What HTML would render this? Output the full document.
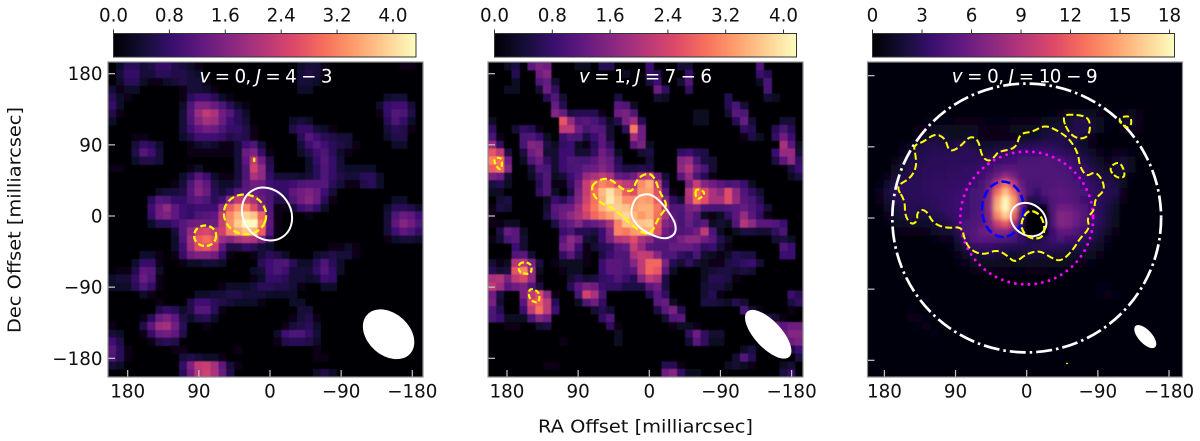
<!DOCTYPE html>
<html lang="en">
<head>
<meta charset="utf-8">
<title>Three-panel intensity maps</title>
<style>
html,body{margin:0;padding:0;background:#fff;width:1200px;height:441px;overflow:hidden}
svg{display:block}
text{font-family:"DejaVu Sans","Liberation Sans",sans-serif;fill:#111}
</style>
</head>
<body>
<svg id="figure" xmlns="http://www.w3.org/2000/svg" width="1200" height="441" viewBox="0 0 1200 441">
<defs id="defs">
<filter id="soft" x="-5%" y="-5%" width="110%" height="110%"><feGaussianBlur stdDeviation="0.55"/></filter>
<filter id="smooth" x="-5%" y="-5%" width="110%" height="110%"><feGaussianBlur stdDeviation="2.2"/></filter>
</defs>
<text x="645.5" y="432.5" text-anchor="middle" font-size="18" textLength="215" lengthAdjust="spacingAndGlyphs">RA Offset [milliarcsec]</text>
<text transform="translate(20.5,220) rotate(-90)" text-anchor="middle" font-size="18" textLength="226" lengthAdjust="spacingAndGlyphs">Dec Offset [milliarcsec]</text>
</svg>
<script>
const axisTicks = [180, 90, 0, -90, -180];
const colorTicksA = [0, 0.8, 1.6, 2.4, 3.2, 4.0];
const colorLabelsA = ["0.0", "0.8", "1.6", "2.4", "3.2", "4.0"];
const colorTicksC = [0, 3, 6, 9, 12, 15, 18];
const colorLabelsC = ["0", "3", "6", "9", "12", "15", "18"];
const magmaStops = ["#000004","#140e36","#3b0f70","#641a80","#8c2981","#b73779","#de4968","#f7705c","#fe9f6d","#fecf92","#fcfdbf"];

const intensityJ43 = [
[0,.2,.5,.5,.3,.4,.6,.6,.4,.3,.2,.1,0,0,0,0,0,0,0,0,0,0,0,0,.2,.3,.3,.1,0,0,0,0,0,0,0,0,0,.1,.1],
[0,.3,.6,.6,.3,.3,.5,.5,.4,.4,.3,.2,0,0,0,0,0,0,0,0,0,0,0,0,.3,.4,.3,.1],
[0,.2,.5,.5,.2,.1,.1,.2,.3,.4,.3,.3,.1,0,0,0,0,0,0,0,0,0,0,0,.3,.3,.2],
[.3,.1,.2,.2,0,0,0,0,0,.1,.3,.3,.2,.1,0,0,0,0,0,0,0,0,0,0,.2,.2],
[.5,.2,.1,0,0,0,0,0,0,.1,.5,.7,.7,.5,.2,.1,0,0,0,0,0,0,0,0,0,0,0,0,0,0,0,0,0,0,0,.2,.3,.3],
[.6,.2,0,0,0,0,0,0,0,.2,.8,1.3,1.3,1.1,.8,.5,.2,.1,0,0,0,0,0,0,0,0,0,0,0,0,0,0,0,0,.2,.6,.7,.7,.3],
[.4,.1,0,0,0,0,0,0,0,.3,.9,1.6,2,1.8,1.2,.9,.5,.2,0,0,0,0,0,0,0,0,0,0,0,0,0,0,0,0,.1,.6,.9,.8,.4],
[.2,0,0,0,0,0,0,0,0,.3,.8,1.4,1.7,1.6,1.1,.7,.5,.3,0,0,0,0,0,.2,.3,.2,0,0,0,0,0,0,0,0,0,.5,.8,.6,.2],
[0,0,0,0,0,0,0,0,0,.3,.7,1,1.2,1.1,.8,.6,.6,.4,.1,0,0,0,0,.4,.6,.6,.3,.2,.1,0,0,0,0,0,0,.3,.5,.4,.1],
[0,0,0,.1,.1,0,0,0,0,.2,.4,.7,.7,.7,.6,.4,.5,.4,.1,0,0,0,0,0,.5,.9,.7,.5,.4,.3,.3,0,0,0,0,.2,.4,.4],
[0,0,0,.3,.6,.5,.2,0,0,0,.1,.2,.3,.2,.1,.1,.3,.7,.8,.3,0,0,0,0,.3,.7,.9,.7,.5,.4,.3,.1,0,0,0,0,.2,.2],
[0,0,0,.4,.9,.7,.3,0,0,0,.1,.1,.1,.1,.1,.1,.3,1.1,1.3,.6,.1,0,0,0,.2,.4,.7,.8,.5,.2,.1],
[0,0,0,.2,.4,.4,.3,0,0,0,0,0,0,0,0,0,.3,1,2,1.2,.4,0,0,0,0,.2,.6,.9,.6,.3],
[.1,.1,0,0,0,0,0,0,0,0,.1,.2,0,0,0,0,.3,.8,2.2,1.5,.5,0,0,0,0,.2,.5,.8,.6,.3,.2,.2,.2,.2],
[0,0,0,0,0,0,0,0,0,.2,.5,.9,.7,.2,.1,.1,.3,.8,1.8,1.5,.6,.3,.3,.3,.2,.3,.5,.8,.6,.4,.3,.3,.5,.5,.2],
[0,0,0,0,0,0,0,0,.1,.3,.8,1.3,1,.4,.2,.2,.4,.9,1.2,1.1,.7,.6,.6,.7,.8,.9,.9,.9,.5,.3,.1,.1,.4,.5,.2],
[0,0,0,0,0,0,.2,.3,.3,.4,.9,1.4,1.1,.5,.3,.5,.8,1,1.1,1,.8,.6,.6,1,1.2,1.3,1.1,.7,.3],
[0,0,0,0,0,.5,.9,.8,.6,.6,.8,1,.8,.5,.7,1.5,2,2,1.7,1.1,.8,.4,.4,.8,1.2,1.4,1.1,.5,.1,0,0,0,0,0,0,0,.2,.2],
[0,0,0,0,0,.7,1.2,1.5,1,.7,.6,.7,.7,.7,1.5,2.6,3.1,3.1,2.4,1.5,.8,.1,.1,.3,.7,.8,.6,.2,0,0,0,0,0,0,0,.2,.5,.5,.4,.2],
[0,0,0,0,0,.6,1.2,1.3,1,.7,.6,.8,.9,1,2,3.1,3.6,3.9,3.7,2.7,.9,.1,0,0,0,.1,0,0,0,0,0,0,0,0,0,.3,.8,1.1,1,.7],
[0,0,0,0,0,.2,.5,.5,.7,.9,1.1,1.2,1.1,1.1,2.1,3.2,3.8,4.3,4.3,3,1,.1,0,0,0,0,0,0,0,0,0,0,0,0,0,.3,1,1.4,1.2,.8],
[0,0,0,0,0,0,0,0,.3,.9,1.5,2.2,2.3,2,2.2,3,3.4,3.7,3.6,2.6,.9,.1,0,0,0,0,0,0,0,0,0,0,0,0,0,.3,.7,1,.8,.6],
[0,0,0,0,0,0,0,0,.2,.8,1.7,2.6,2.8,2.5,1.6,1.4,1.7,1.9,1.8,1.3,.5,0,0,0,0,0,0,0,0,0,0,0,0,0,0,.1,.2,.3,.3,.2],
[0,0,0,0,0,0,0,0,.2,.7,1.6,2.4,2.5,2.1,1,.4,.4,.6,.5,.3,.2,0,0,0,0,0,0,0,.1,.1,.2,.1],
[0,0,0,0,.2,.2,.1,0,.1,.6,1.2,1.3,1.3,1.2,.6,.1,0,0,.1,.3,.5,.4,.2,0,0,0,.2,.3,.4,.3,.3,.1],
[0,0,0,.2,.6,.6,.1,0,0,.1,.2,.2,.3,.3,.2,0,0,0,0,.5,.7,.8,.8,.5,.2,.2,.5,.8,.5,.2],
[0,.1,.1,.4,1,.9,.2,0,0,0,0,0,0,0,0,0,0,0,.2,.3,.7,.8,.7,.3,.3,.3,.6,.9,.6,.2],
[.2,.3,.3,.6,1.1,.8,.1,0,0,0,0,0,0,0,0,0,0,0,.1,.2,.6,.6,.5,.3,.3,.2,.3,.7,.6],
[.2,.2,.2,.5,.8,.6,.1,0,0,0,0,0,0,0,.1,.2,.2,.2,.3,.5,.5,.4,.4,.3,.1,0,0,.2,.2],
[0,0,0,0,.2,.1,0,0,0,0,0,.2,.2,.3,.3,.4,.4,.3,.3,.3,.2,.2,.2,.2],
[0,0,0,0,0,0,.1,0,0,0,.4,.7,.7,.5,.4,.3,.2,.2,.2,.1,0,0,0,.2,.2],
[0,0,0,0,0,0,.4,.6,.5,.2,.4,.9,.9,.5,.1,0,0,0,0,0,0,0,0,0,.3,.3],
[0,0,0,0,.1,.5,1.1,1.3,1,.4,.2,.4,.5,.2,0,0,0,0,0,0,0,0,0,.1,.3,.4,.1],
[.1,0,0,0,.4,1,1.6,1.7,1.2,.5,0,0,.1,0,0,0,0,0,0,0,0,0,.1,.3,.4,.5,.2],
[.3,.2,0,0,.1,.6,1.1,1.2,1,.4,0,0,0,0,0,0,0,0,0,0,0,.2,.7,.8,.8,.6,.3],
[.7,.4,0,0,0,.1,.4,.5,.4,0,0,0,0,0,0,0,0,0,0,0,0,.1,.4,.5,.5,.4,.2],
[.9,.5,.1,0,0,0,0,0,.1,.1,0,0,0,0,0,0,.1,0,0,0,0,0,0,0,0,0,.1],
[.8,.5,.1,0,0,0,0,0,0,.3,.4,.3,.2,.2,.1,0,0,0,0,0,0,0,0,0,0,0,.1,.1],
[.3,.2,0,0,0,0,0,0,0,.6,1.3,2,2.1,1.7,1,.3,.1],
[0,0,0,0,0,0,0,0,0,.5,1.2,1.9,2.2,1.8,1.1,.4,0,0,0,0,0,0,0,0,0,0,.2,.4,.2]
];

const intensityJ76 = [
[0,0,.2,.4,0,1,1.3,1.2,0,0,0,.2,.2,0,.5,.5,0,0,0,0,.7,0,0,0,.3,.3,0,0,0,0,0,0,0,0,.9],
[0,0,0,.5,0,0,1.2,1.4,0,0,0,0,0,0,0,0,0,.2,0,0,.6,.5,0,0,0,.7,0,0,0,0,0,0,0,0,.7,.5],
[0,0,0,.2,0,0,.9,1.1,.3,0,0,0,0,0,0,0,0,0,0,0,.4,.7,0,0,.3,.9,0,0,0,0,0,0,0,0,.2,.8],
[0,0,.2,.2,0,0,.3,1.2,.6,0,0,0,0,0,0,0,0,0,0,0,0,1.2,.6,0,0,.6,0,0,0,0,0,0,0,0,0,.8],
[0,0,0,0,0,0,0,.5,.9,.3,0,0,0,0,0,0,.4,0,0,0,0,.3,.2,0,0,0,0,0,0,0,.5,0,0,0,0,.3,.2],
[0,0,0,0,0,0,0,0,1.1,.5,0,0,0,0,0,0,1,.9,.2,0,0,0,0,0,0,0,0,0,0,0,.5,.8,.3],
[0,0,0,0,0,0,0,0,1.4,1.1,.4,.5,.5,.5,.1,0,1.2,1.3,.9,0,0,0,0,0,0,0,.2,.2,0,0,.3,1,.9],
[.2,0,0,0,0,0,0,0,0,2.5,1.6,.9,1,.8,.6,.2,.5,1.3,1.7,.5,0,0,0,0,0,0,.2,.2,0,0,0,.5,1.1,.3,0,0,0,.3,.3],
[.6,0,0,.3,.6,.5,.1,0,0,2,2,1.2,.8,1,.9,.3,0,.6,2.9,1.2,0,0,0,0,0,0,0,0,0,0,0,0,.6,.5,0,0,.5,.8,.5],
[.8,.1,0,0,.8,.9,.7,.2,0,.7,.9,.8,.4,.7,1,.3,0,0,1.7,1.2,0,0,0,0,0,0,0,0,0,0,0,0,.1,.4,.2,0,.6,1.2,.7],
[1.6,.6,0,0,.8,1.4,1.3,.4,.2,.6,.7,.2,.1,.5,1,.6,0,0,1,1.3,.2,0,0,0,0,0,0,0,0,0,0,0,0,0,0,0,0,1.8,1,.2],
[2.5,2,.4,0,.4,1.2,1.4,.3,.3,.7,.7,.3,.3,.6,1.2,.9,.2,0,0,.3,.4,0,0,0,.6,.7,.5,.4,0,0,0,0,0,0,0,0,.7,1.6,1.6,.3],
[3,2.8,1.2,0,.2,.9,1.2,.6,.3,.7,.9,.8,.8,1,1.3,1.1,.5,0,0,0,.3,0,0,0,1.4,1.6,.8,.4,.3,0,0,0,0,0,0,0,.4,1,1.5,.6],
[2.6,2.8,1.4,0,0,.3,.9,.8,.3,.7,.8,.9,1.1,1.2,1.4,1.2,.6,.4,.4,.5,.4,0,0,0,1.5,1.9,1.2,.8,.3,0,0,0,0,0,0,0,0,0,.4,.7],
[1.3,1.2,.3,0,0,.2,.6,.9,.2,.3,.7,1,1.6,1.8,2,1.8,1.1,1,1.2,1.8,2,1.2,.3,0,1,1.6,.8,.5,.1,0,0,0,0,0,0,0,0,0,.2,.4],
[.4,.5,.2,0,0,0,.5,.9,.1,.1,.6,1.2,2.1,2.6,3,2.8,2.3,2,1.9,3.1,3.4,2,.6,0,0,1.3,2.1,1.4,1.2,1,.8,.9,.7,.2],
[.2,.2,0,0,0,0,.6,.9,.2,0,.4,1.3,2.1,2.8,3.5,3.9,3.4,2.6,2.4,3.2,3.3,2.4,1,.1,0,1.9,2.8,2.4,1.8,1.5,2.4,1.5,.9,.6,.3],
[0,.3,.4,0,0,0,0,.2,.7,.5,.8,1.4,2.2,2.8,3.4,4,3.6,3.1,3.1,3.3,3.2,2.6,1.4,.6,.3,1.8,2.8,2.4,1.8,1.8,2.4,1.6,1,.8,.5],
[.1,.4,.3,0,0,0,0,.3,1,1.1,1.2,1.7,2.4,2.9,3.4,3.7,3.7,3.6,3.3,3.4,3.4,2.9,1.8,.9,.9,1.3,1.4,.9,.8,.8,.9,1,1.1,.9,.7,.3],
[.1,0,0,0,0,0,0,.4,.9,1.2,1.5,1.8,2.2,2.7,3,3.3,3.6,3.8,3.5,3.2,3.4,2.8,1.8,1,.8,1.2,.9,.2,.1,.2,.6,1,1.6,1,.6,.1],
[.1,.1,.2,.2,0,0,0,0,.4,.9,1.1,1.4,1,1.1,1.3,1.8,3,3.6,3.6,3.6,3.7,2.5,1.4,1.2,.8,1.1,.8,1,.2,.3,.2,.9,1.9,1.5,1,1,.9,.7],
[0,.4,1.1,1,.2,0,0,0,0,.7,.8,.5,.5,.4,.7,1.4,3,2.9,3.2,3.3,3.4,2.4,1.2,1,.9,1,1.2,2,.8,.2,0,.2,.4,.4,.3,.3,.6,.8],
[.1,.3,.8,1,.3,0,0,0,0,1,1.5,1.2,.3,.2,.7,1.3,1.9,2,2.4,1.8,1.5,1,1,1,1.3,1.5,1.5,1.2,1,.5,.2,0,0,0,0,0,.3,.4,.2],
[0,0,0,.7,.3,0,0,0,0,1.2,1.4,.7,.1,.3,.5,.6,1,1.1,2.1,1.6,1,.9,.9,1.1,1.1,1.1,1,.6,.7,.3,.1,0,0,0,0,0,0,.9,.7],
[0,0,0,.9,1,.3,0,0,0,.6,1,.5,.1,0,.4,.7,.9,.9,1.8,2.1,2,1.4,.9,.9,.6,.5,.8,.3,.2,.1,.2,.5,.4,.4,0,0,0,.7,.7],
[.3,.1,.2,1.9,2,1.3,.4,0,.1,.2,.2,.2,.1,0,.7,1,1,.9,1.4,2,2.7,2.7,1.3,.5,.3,.6,.3,.2,.1,.1,.4,.5,.6,.7,.3],
[.5,.3,.4,2.5,3,1.6,.2,0,0,.1,.2,.2,0,0,.7,1,1,.8,1,2,2.7,2.5,1,.2,0,0,0,.2,.3,.4,.4,.3,.4,.3],
[1.8,1.9,1.3,2,2.3,1.5,.1,0,0,0,.3,.5,.3,.4,.6,.7,.9,.7,.5,1.4,2,1.8,.4,0,0,0,0,.2,.5,.5,.4,.1],
[2,1.7,1,1.2,1.3,.9,.4,0,0,0,.5,1,1.3,1.2,.7,.6,.6,.4,.4,.4,1,1.2,.4,0,0,0,0,.3,.4,.4,.2],
[1.2,.4,0,0,1.3,2,2.4,1.5,.1,0,0,.8,2.2,1.8,.8,0,0,0,0,0,.5,1,.6,0,0,0,0,.3,.5,.1,0,0,0,0,0,0,0,0,.7,.5],
[1.3,.3,0,0,1,2.3,2.6,2,.5,0,0,.2,.9,1.2,.6,0,0,0,0,0,0,1,1.1,.2,0,0,0,.4,.4,.3,.2,.5,.3,0,0,0,0,0,.4,.6],
[.9,.5,0,0,.7,2,2.8,2,.7,0,0,0,0,.3,.5,.3,0,0,0,0,0,.4,1,1.3,.5,0,0,0,0,0,0,0,.8,.3,.1,0,0,0,.1],
[.8,.7,.2,.2,.2,.8,1.4,1.2,0,0,0,0,0,0,.6,.9,0,0,0,0,0,0,.3,.9,1,0,0,0,0,0,0,0,0,1,1.1,.5,.3,.1],
[0,0,.1,.1,0,0,.3,.4,0,0,0,0,0,0,0,.6,.1,0,0,0,0,0,0,.1,.2,.2,.1,0,0,0,0,0,0,.4,.7,1.2,1.2,1,1.2,1.2],
[0,0,0,0,0,0,0,0,0,0,0,0,0,0,0,0,.2,0,0,0,0,0,0,0,0,.6,1.2,.6,.3,.3,0,0,0,0,0,.5,0,1.2,1.4,1.4],
[0,0,0,0,0,0,0,0,0,.1,0,0,0,0,0,0,.2,0,0,0,0,0,0,0,0,.3,1,.6,.2,.2,0,0,0,0,0,0,0,0,1.2,1.3],
[0,0,0,0,0,0,0,0,0,0,0,0,0,0,0,0,0,0,0,0,0,0,0,0,0,0,0,0,0,0,0,0,.2,.4,0,0,0,0,.4,.7],
[0,0,0,0,0,0,0,0,0,0,0,0,0,0,0,0,0,0,0,0,0,0,0,0,0,0,0,0,0,0,0,.3,.9,.5,0,0,0,0,0,.4],
[0,0,0,0,0,0,0,.1,.1,0,0,0,0,0,0,0,0,0,0,0,0,0,.5,.5,.1,0,0,0,0,0,.2,.3,.2,.1,0,0,0,.2,.3],
[0,0,0,0,0,0,0,0,0,0,0,0,0,0,0,0,0,0,0,0,0,0,1.2,1.4,.6,.2,.2,0,0,0,0,0,0,0,0,0,0,.4,.6]
];

const intensityJ109 = [
[.2,.2,.2,.3,.3,.3,.3,.2,.2,.2,.3,.4,.4,.5,.6,.6,.4,.3,.3,.3,.3,.3,.2,.2,.3,.4,.4,.6,.6,.4,.3,.2,.2,.2,.3,.3,.2,.2,.2,.2],
[.2,.3,.3,.3,.3,.2,.2,.2,.2,.3,.3,.3,.3,.4,.4,.4,.3,.3,.2,.2,.2,.2,.2,.3,.3,.4,.3,.4,.5,.5,.4,.3,.3,.2,.2,.3,.4,.3,.2,.2],
[.3,.3,.3,.2,.2,.2,.2,.3,.3,.3,.2,.2,.2,.3,.3,.3,.2,.2,.2,.2,.2,.2,.3,.3,.2,.2,.3,.3,.3,.4,.4,.4,.3,.3,.2,.2,.2,.3,.3,.2],
[.2,.3,.4,.3,.2,.2,.3,.3,.2,.2,.2,.2,.2,.2,.2,.2,.2,.2,.2,.3,.3,.3,.2,.2,.2,.2,.2,.2,.2,.3,.4,.3,.3,.3,.3,.2,.2,.2,.3,.3],
[.2,.2,.3,.4,.4,.3,.2,.2,.2,.2,.2,.3,.3,.2,.2,.2,.2,.2,.2,.2,.2,.2,.2,.2,.2,.2,.3,.3,.3,.2,.2,.3,.4,.4,.3,.2,.2,.2,.2,.4],
[.2,.2,.2,.3,.5,.5,.4,.3,.2,.2,.2,.2,.3,.3,.3,.2,.2,.2,.2,.2,.3,.3,.3,.3,.3,.4,.4,.5,.5,.4,.3,.3,.3,.4,.4,.3,.3,.3,.3,.5],
[.2,.2,.2,.2,.3,.5,.6,.5,.4,.4,.4,.4,.5,.5,.5,.5,.4,.4,.4,.4,.5,.5,.6,.7,.8,1.2,1.3,1.4,1.4,.9,.6,.7,1,1.2,.9,.6,.4,.4,.4,.5],
[.2,.2,.3,.3,.3,.4,.6,.7,.7,.7,.7,.8,.9,.9,.8,.7,.7,.7,.8,.8,.9,1,1.1,1.2,1.5,2,2.8,2.8,2,1.1,.7,.7,1.8,1.8,1,.6,.4,.3,.3,.4],
[.3,.3,.3,.4,.4,.5,.8,1,1.3,1.4,1.3,1.1,1.4,1.4,1,.9,.9,1,1.1,1.2,1.4,1.6,2,2.3,2.2,2,3,3,2.2,1.2,.7,.6,.9,1,.8,.5,.4,.3,.3,.3],
[.3,.3,.3,.3,.4,.5,.8,1.6,2.2,2.2,1.6,1.2,1.8,1.8,1,.8,.8,.9,1,1.2,1.5,1.8,2.3,2.6,2.8,3,2.8,2,1,.5,.4,.3,.3,.3,.5,.6,.4,.3,.2,.2],
[.3,.3,.4,.5,.7,1,2,3,3,2.6,2.4,3,3,2.2,1.8,1.8,2,2.2,2.5,3,3,3.2,3.4,3.2,3,2.6,2.2,1.5,.9,.6,.5,.5,.5,.4,.3,.3,.3,.2,.2,.2],
[.3,.3,.4,.6,1,1.8,2.8,3,3.2,3.2,3.2,3.2,3.3,3.3,2.5,2.6,3,3.5,3.8,4,4,4,4.2,4,3.6,3.2,2.8,2.4,1.6,1,.7,1,1,.7,.4,.3,.3,.2,.2,.2],
[.3,.3,.5,.8,1.5,2.6,3,3.2,3.3,3.3,3.4,3.4,3.4,3.4,3.5,3.8,4,4.3,4.5,4.6,4.8,4.8,5,4.8,4.6,4.2,3.6,3,2.2,1.4,1,1.8,2,1.2,.5,.3,.3,.3,.2,.2],
[.3,.4,.6,1.2,2,2.8,3.1,3.3,3.4,3.4,3.5,3.5,3.6,3.7,4,4.5,5,5.5,5.6,5.2,5,5,5,5,4.8,4.6,4.2,3.6,2.8,2,1.4,2.2,2.4,1.4,.5,.4,.3,.3,.3,.2],
[.3,.4,1,2,2.6,3,3.2,3.4,3.5,3.5,3.6,3.6,3.7,3.8,4.2,5,6.5,8,6.8,5.2,5,5,5,5,5,4.8,4.4,4,3.2,2.6,2.5,2,1.2,.7,.4,.4,.3,.3,.2,.2],
[.4,.7,1.5,2.8,3.4,3.4,3.4,3.5,3.6,3.6,3.7,3.8,3.9,4.2,4.6,6,10,13,10,6,4.8,4.6,5,5,5.2,5,4.8,4.4,3.6,3.2,3,2.6,1.2,.5,.4,.3,.3,.3,.2,.2],
[.5,1,2.4,3.2,3.4,3.3,3.4,3.5,3.6,3.7,3.8,4,4.3,4.6,5,7,13,16,13,7,4.6,4,5,5.4,5.6,5.4,5,4.6,3.8,3.4,3.2,2.8,1,.5,.3,.3,.3,.3,.3,.2],
[.5,.8,2,3,3.2,3.2,3.3,3.4,3.5,3.7,3.9,4.1,4.4,4.6,5,7.5,15,18,15,7.5,3,3,4,5,5.5,5.4,5,4.4,3.8,3.3,3,2.2,.8,.4,.3,.3,.2,.2,.3,.3],
[.4,.6,1.3,2.2,3,3.1,3,3.2,3.4,3.6,3.8,4.1,4.4,4.6,5,8,15.5,18.3,15,6.5,1,.2,.6,5,6.6,6.4,5.8,5,4,3.4,2.6,1.6,.6,.3,.3,.2,.2,.2,.3,.3],
[.3,.5,1,1.8,2.4,2.8,2.2,2.4,3,3.2,3.6,4,4.4,4.8,5.2,7.5,14,16.5,13,5,0,0,0,5,7.4,7.2,6.4,5.2,4.2,3.4,2.4,1.4,.5,.3,.2,.2,.2,.2,.3,.3],
[.3,.4,.7,1.2,1.5,1.8,1.6,1.8,2,2.6,3,3.8,4.6,5,5.6,7,10.5,12,9,3.5,0,0,0,5,7.4,7,6.2,5,4,3.2,2.2,1.2,.5,.3,.2,.2,.2,.2,.2,.3],
[.3,.3,.5,.7,.8,.9,.9,1,1.5,2,2,3.2,4.6,5.4,6,6.5,7.5,7.5,6,3,0,0,.3,4,5.8,5.8,5,4.2,3.4,2.6,1.6,.8,.4,.3,.2,.2,.2,.2,.2,.2],
[.2,.3,.4,.4,.5,.6,.6,.6,.7,1,1,2.4,4.2,5.2,5.6,5.4,5.2,5,4.6,4,3,2.6,3.2,4.2,4.6,4.4,4,3.4,2.8,2,1,.5,.3,.3,.2,.2,.2,.2,.2,.2],
[.2,.2,.3,.3,.4,.4,.4,.4,.5,.6,.7,1.6,2.8,3.6,3.8,3.8,3.5,3.2,3,3,3,3.2,3.4,3.4,3.2,3,2.9,2.6,2,1.4,.7,.4,.3,.2,.2,.2,.2,.2,.2,.2],
[.2,.2,.2,.3,.3,.3,.3,.3,.4,.5,.6,1,1.5,2.2,2.4,2.6,2.2,2,1.8,2,2.2,2.3,2.2,2.1,2,1.8,1.8,1.6,1.2,.8,.5,.3,.2,.2,.2,.2,.2,.3,.3,.2],
[.2,.2,.2,.2,.2,.2,.2,.3,.3,.4,.5,.7,1,1.3,1.4,1.4,1.3,1.2,1.2,1.2,1.3,1.3,1.3,1.2,1.2,1.1,1,.9,.7,.5,.4,.3,.2,.2,.2,.3,.4,.4,.3,.2],
[.2,.2,.2,.2,.2,.2,.2,.2,.3,.3,.4,.5,.6,.8,.9,.9,.8,.8,.7,.7,.8,.8,.8,.7,.7,.6,.6,.6,.5,.4,.3,.3,.3,.3,.4,.5,.5,.4,.3,.2],
[.4,.5,.3,.2,.2,.2,.2,.2,.2,.3,.3,.3,.4,.5,.6,.6,.6,.5,.4,.4,.4,.4,.4,.4,.4,.4,.4,.4,.4,.4,.5,.4,.4,.4,.5,.5,.4,.3,.3,.3],
[.5,.6,.4,.2,.2,.2,.2,.2,.2,.2,.3,.3,.3,.3,.4,.4,.3,.3,.3,.3,.3,.3,.3,.3,.3,.3,.3,.4,.6,.7,.7,.6,.4,.4,.4,.4,.4,.4,.3,.3],
[.3,.3,.3,.2,.2,.3,.4,.5,.4,.3,.2,.2,.2,.2,.2,.3,.3,.3,.2,.2,.2,.2,.2,.2,.2,.2,.3,.4,.5,.7,.8,.7,.5,.4,.3,.3,.3,.3,.3,.3],
[.2,.2,.2,.2,.3,.4,.6,.7,.5,.3,.2,.2,.2,.2,.2,.2,.3,.3,.3,.2,.2,.2,.2,.2,.2,.2,.2,.3,.4,.4,.5,.5,.5,.4,.3,.3,.3,.4,.4,.3],
[.2,.2,.2,.3,.5,.7,.6,.4,.3,.3,.2,.2,.2,.2,.2,.3,.4,.5,.4,.2,.2,.2,.2,.2,.2,.2,.2,.2,.3,.3,.3,.4,.4,.5,.5,.4,.3,.3,.3,.2],
[.2,.2,.3,.3,.6,.8,.9,.7,.4,.3,.2,.2,.2,.2,.2,.2,.3,.4,.5,.4,.3,.3,.2,.2,.2,.2,.2,.3,.3,.3,.2,.3,.3,.4,.5,.5,.4,.3,.3,.2],
[.2,.2,.3,.4,.4,.6,.7,.8,.6,.4,.3,.2,.2,.2,.2,.2,.2,.3,.4,.5,.6,.5,.3,.2,.2,.2,.2,.2,.3,.3,.2,.2,.3,.3,.4,.5,.5,.4,.3,.2],
[.2,.2,.2,.3,.4,.4,.5,.6,.7,.5,.3,.2,.2,.2,.2,.2,.2,.2,.3,.4,.6,.6,.4,.2,.2,.2,.2,.2,.3,.3,.3,.2,.2,.3,.3,.4,.5,.5,.3,.2],
[.2,.2,.2,.2,.3,.4,.4,.5,.6,.6,.4,.3,.2,.2,.2,.2,.2,.2,.2,.3,.4,.5,.3,.2,.2,.2,.2,.2,.2,.4,.4,.3,.2,.2,.3,.3,.4,.5,.4,.3],
[.2,.2,.2,.2,.2,.3,.4,.4,.5,.6,.5,.4,.3,.2,.2,.2,.2,.2,.2,.2,.3,.3,.3,.2,.2,.2,.3,.3,.3,.4,.5,.5,.3,.2,.2,.3,.3,.4,.5,.4],
[.2,.2,.2,.2,.2,.2,.3,.3,.4,.5,.5,.5,.4,.3,.2,.2,.2,.2,.2,.2,.2,.2,.2,.2,.3,.3,.4,.5,.5,.5,.5,.5,.4,.3,.3,.3,.3,.4,.5,.5],
[.2,.2,.2,.2,.2,.2,.2,.3,.3,.4,.5,.6,.6,.4,.3,.3,.3,.3,.3,.3,.3,.3,.3,.3,.4,.4,.5,.6,.6,.5,.4,.4,.4,.4,.4,.4,.4,.4,.5,.5],
[.2,.2,.2,.2,.2,.2,.2,.2,.3,.3,.4,.5,.6,.6,.5,.4,.4,.4,.4,.4,.4,.4,.4,.4,.5,.5,.6,.6,.5,.4,.3,.3,.4,.4,.4,.4,.4,.4,.4,.4]
];

const yellowMainJ109 = [[166,40],[147,50],[139,65],[141,82],[143,92],[131,96],[116,107],[103,101],[98,83],[84,90],[72,104],[61,99],[57,78],[48,71],[40,78],[36,84],[13,88],[9,107],[-8,109],[-23,118],[-42,109],[-55,99],[-65,82],[-67,65],[-76,52],[-86,59],[-95,50],[-99,35],[-86,24],[-86,10],[-76,0],[-80,-13],[-67,-26],[-59,-40],[-44,-55],[-32,-51],[-17,-41],[0,-45],[15,-57],[25,-47],[38,-40],[55,-47],[72,-40],[79,-26],[82,-11],[101,-13],[118,-7],[126,8],[133,11],[139,6],[138,-3],[145,-9],[154,2],[154,23]];
const yellowLoop1J109 = [[-44,130],[-62,131],[-80,127],[-80,105],[-68,99],[-53,107]];
const yellowLoop2J109 = [[-114,126],[-131,130],[-133,118],[-126,113]];
const yellowLoop3J109 = [[-103,63],[-118,73],[-126,52],[-114,50]];
const yellowInnerJ109 = [[-2,11],[-17,5],[-23,-10],[-21,-24],[-8,-27],[4,-20],[8,-6]];
const whiteContourJ76 = [[6,28],[18,23],[24,5],[19,-8],[6,-20],[-19,-30],[-32,-24],[-34,-14],[-30,-3],[-15,18],[-3,27]];
const yellowMainJ76 = [[71,41],[58,48],[46,45],[35,34],[21,30],[16,47],[2,55],[-7,49],[-13,30],[-24,13],[-11,-3],[-3,-22],[8,-22],[23,-11],[33,-1],[48,11],[61,16],[69,24],[73,34]];
const yellowLoopAJ76 = [[198,72],[187,75],[186,60],[191,59]];
const yellowLoopBJ76 = [[-59,35],[-72,30],[-62,20],[-58,26]];
const yellowLoopCJ76 = [[162,-58],[149,-60],[149,-74],[164,-72],[166,-64]];
const yellowLoopDJ76 = [[151,-91],[139,-96],[139,-110],[149,-108],[153,-100]];

const SVGNS = "http://www.w3.org/2000/svg";
const figure = document.getElementById("figure");
const defsEl = document.getElementById("defs");
const PXPERMAS = 0.7906;
const NGRID = 40;

function mk(tag, attrs, parent) {
  const el = document.createElementNS(SVGNS, tag);
  for (const k in attrs) el.setAttribute(k, attrs[k]);
  parent.appendChild(el);
  return el;
}
function magma(t) {
  const u = Math.max(0, Math.min(1, t)) * (magmaStops.length - 1);
  const i = Math.min(magmaStops.length - 2, Math.floor(u));
  const f = u - i;
  const a = magmaStops[i], b = magmaStops[i + 1];
  const ch = p => {
    const va = parseInt(a.substr(p, 2), 16), vb = parseInt(b.substr(p, 2), 16);
    return Math.round(va + (vb - va) * f);
  };
  return "rgb(" + ch(1) + "," + ch(3) + "," + ch(5) + ")";
}
function closedSmoothPath(points, xs, ys) {
  const pts = points.map(p => [xs(p[0]), ys(p[1])]);
  const n = pts.length;
  const mid = (a, b) => [(a[0] + b[0]) / 2, (a[1] + b[1]) / 2];
  const s = mid(pts[n - 1], pts[0]);
  let d = "M" + s[0].toFixed(1) + " " + s[1].toFixed(1);
  for (let i = 0; i < n; i++) {
    const m = mid(pts[i], pts[(i + 1) % n]);
    d += "Q" + pts[i][0].toFixed(1) + " " + pts[i][1].toFixed(1) + " " + m[0].toFixed(1) + " " + m[1].toFixed(1);
  }
  return d + "Z";
}

function drawPanel(cfg) {
  const xs = v => cfg.cx - v * PXPERMAS;
  const ys = v => cfg.cy - v * PXPERMAS;
  const size = 315;
  const panel = mk("g", {}, figure);
  
  

  const clip = mk("clipPath", { id: "clip-" + cfg.name }, defsEl);
  mk("rect", { x: cfg.left, y: cfg.top, width: size, height: size }, clip);

  const bg = mk("rect", { x: cfg.left, y: cfg.top, width: size, height: size, fill: "#000004" }, panel);
  
  

  const body = mk("g", { "clip-path": "url(#clip-" + cfg.name + ")" }, panel);
  const heat = mk("g", { filter: "url(#" + cfg.filter + ")", "shape-rendering": "crispEdges" }, body);
  
  

  const raLeft = (cfg.cx - cfg.left) / PXPERMAS;
  const decTop = (cfg.cy - cfg.top) / PXPERMAS;
  const step = size / PXPERMAS / NGRID;
  cfg.rows.forEach((row, r) => {
    for (let c = 0; c < NGRID; c++) {
      const v = row[c] || 0;
      if (v <= 0) continue;
      const x0 = xs(raLeft - c * step), x1 = xs(raLeft - (c + 1) * step);
      const y0 = ys(decTop - r * step), y1 = ys(decTop - (r + 1) * step);
      const cell = mk("rect", { x: x0.toFixed(2), y: y0.toFixed(2), width: (x1 - x0 + 0.4).toFixed(2), height: (y1 - y0 + 0.4).toFixed(2), fill: magma(Math.pow(v / cfg.vmax, cfg.gamma)) }, heat);
      
      
    }
  });

  cfg.overlays.forEach(o => {
    let el;
    const style = { fill: o.fill || "none", stroke: o.stroke || "none", "stroke-width": o.sw || 0 };
    if (o.dash) style["stroke-dasharray"] = o.dash;
    if (o.cap) style["stroke-linecap"] = o.cap;
    if (o.points) {
      style.d = closedSmoothPath(o.points, xs, ys);
      style["stroke-linejoin"] = "round";
      el = mk("path", style, body);
    } else {
      const cx = xs(o.ra), cy = ys(o.dec);
      style.cx = cx; style.cy = cy;
      style.rx = o.a * PXPERMAS; style.ry = o.b * PXPERMAS;
      if (o.rot) style.transform = "rotate(" + o.rot + " " + cx + " " + cy + ")";
      el = mk("ellipse", style, body);
    }
    
    
  });

  axisTicks.forEach(t => {
    const tx = xs(t), ty = ys(t);
    const xt = mk("line", { x1: tx, x2: tx, y1: cfg.top + size, y2: cfg.top + size - 7, stroke: "#c8c8c8", "stroke-width": 1.2 }, panel);
    
    
    const yt = mk("line", { x1: cfg.left, x2: cfg.left + 7, y1: ty, y2: ty, stroke: "#c8c8c8", "stroke-width": 1.2 }, panel);
    
    
    const lab = String(t).replace("-", "\u2212");
    const xl = mk("text", { x: tx, y: 397.5, "text-anchor": "middle", "font-size": 18.3 }, panel);
    xl.textContent = lab;
    
    
    if (cfg.yLabels) {
      const yl = mk("text", { x: 102.5, y: ty + 6.5, "text-anchor": "end", "font-size": 18.3 }, panel);
      yl.textContent = lab;
      
      
    }
  });

  const frame = mk("rect", { x: cfg.left, y: cfg.top, width: size, height: size, fill: "none", stroke: "#8f8f8f", "stroke-width": 1.2 }, panel);
  
  

  const title = mk("text", { x: cfg.titleX, y: 82.5, "text-anchor": "middle", "font-size": 18.3, style: "fill:#fff", textLength: cfg.titleW }, panel);
  
  
  const t1 = mk("tspan", { "font-style": "italic" }, title); t1.textContent = "v";
  const t2 = mk("tspan", {}, title); t2.textContent = " = " + cfg.vib + ", ";
  const t3 = mk("tspan", { "font-style": "italic" }, title); t3.textContent = "J";
  const t4 = mk("tspan", {}, title); t4.textContent = " = " + cfg.trans;

  const cb = mk("g", {}, figure);
  
  
  const gradId = "grad-" + cfg.name;
  const grad = mk("linearGradient", { id: gradId, x1: 0, x2: 1, y1: 0, y2: 0 }, defsEl);
  magmaStops.forEach((s, i) => mk("stop", { offset: i / (magmaStops.length - 1), "stop-color": s }, grad));
  const bar = mk("rect", { x: cfg.cbX, y: 33.5, width: cfg.cbW, height: 23.5, fill: "url(#" + gradId + ")", stroke: "#333", "stroke-width": 1 }, cb);
  
  
  cfg.cbTicks.forEach((t, i) => {
    const px = cfg.cbX + t / cfg.vmax * cfg.cbW;
    const tk = mk("line", { x1: px, x2: px, y1: 33.5, y2: 29.5, stroke: "#333", "stroke-width": 1 }, cb);
    
    
    const tl = mk("text", { x: px, y: 21.5, "text-anchor": "middle", "font-size": 18.3 }, cb);
    tl.textContent = cfg.cbLabels[i];
    
    
  });
}

drawPanel({
  name: "panel-j4-3", left: 108, top: 62, cx: 270, cy: 216, rows: intensityJ43, vmax: 4.33, gamma: 0.85, filter: "soft",
  yLabels: true, titleX: 266, titleW: 133, vib: "0", trans: "4 \u2212 3",
  cbX: 113.5, cbW: 302.5, cbTicks: colorTicksA, cbLabels: colorLabelsA,
  overlays: [
    { label: "yellow-contour-center", ra: 31.6, dec: 2, a: 27, b: 25, rot: 20, stroke: "#ffff00", sw: 2.2, dash: "7 3.2" },
    { label: "yellow-contour-left", ra: 82, dec: -25, a: 14, b: 13, stroke: "#ffff00", sw: 2.2, dash: "6 3" },
    { label: "yellow-contour-spot", ra: 20, dec: 71, a: 1.6, b: 3, fill: "#ffff00" },
    { label: "white-contour", ra: 3.8, dec: 2.5, a: 35, b: 30, rot: 55, stroke: "#ffffff", sw: 2 },
    { label: "beam-ellipse", ra: -150, dec: -149.6, a: 36.7, b: 26.5, rot: 42, fill: "#ffffff" }
  ]
});

drawPanel({
  name: "panel-j7-6", left: 488, top: 62, cx: 649.3, cy: 216, rows: intensityJ76, vmax: 4.18, gamma: 0.9, filter: "soft",
  yLabels: false, titleX: 645.5, titleW: 133, vib: "1", trans: "7 \u2212 6",
  cbX: 494.5, cbW: 302, cbTicks: colorTicksA, cbLabels: colorLabelsA,
  overlays: [
    { label: "yellow-contour-center", points: yellowMainJ76, stroke: "#ffff00", sw: 2.2, dash: "7 3.2" },
    { label: "yellow-contour-edge", points: yellowLoopAJ76, stroke: "#ffff00", sw: 2.2, dash: "5 2.5" },
    { label: "yellow-contour-right", points: yellowLoopBJ76, stroke: "#ffff00", sw: 2.2, dash: "5 2.5" },
    { label: "yellow-contour-lower-a", points: yellowLoopCJ76, stroke: "#ffff00", sw: 2.2, dash: "5 2.5" },
    { label: "yellow-contour-lower-b", points: yellowLoopDJ76, stroke: "#ffff00", sw: 2.2, dash: "5 2.5" },
    { label: "white-contour", points: whiteContourJ76, stroke: "#ffffff", sw: 2 },
    { label: "beam-ellipse", ra: -150.4, dec: -149.6, a: 39, b: 17, rot: 47, fill: "#ffffff" }
  ]
});

drawPanel({
  name: "panel-j10-9", left: 867.5, top: 62, cx: 1026.7, cy: 218, rows: intensityJ109, vmax: 18.3, gamma: 1.08, filter: "smooth",
  yLabels: false, titleX: 1024.7, titleW: 146, vib: "0", trans: "10 \u2212 9",
  cbX: 872.5, cbW: 302, cbTicks: colorTicksC, cbLabels: colorLabelsC,
  overlays: [
    { label: "outer-dashdot-circle", ra: 0, dec: 0, a: 170, b: 170, stroke: "#ffffff", sw: 2.7, dash: "16 4 2.5 4" },
    { label: "magenta-dotted-circle", ra: 0, dec: 0, a: 84, b: 84, stroke: "#ff00ff", sw: 2.9, dash: "0 6.8", cap: "round" },
    { label: "blue-dashed-ellipse", ra: 30, dec: 11, a: 26.5, b: 35, stroke: "#0000ff", sw: 2.6, dash: "9 3.6" },
    { label: "white-contour", ra: -2.3, dec: -2, a: 24, b: 19.5, rot: 35, stroke: "#ffffff", sw: 2 },
    { label: "yellow-contour-main", points: yellowMainJ109, stroke: "#ffff00", sw: 2, dash: "7 3.2" },
    { label: "yellow-contour-top", points: yellowLoop1J109, stroke: "#ffff00", sw: 2, dash: "7 3.2" },
    { label: "yellow-contour-corner", points: yellowLoop2J109, stroke: "#ffff00", sw: 2, dash: "6 3" },
    { label: "yellow-contour-right", points: yellowLoop3J109, stroke: "#ffff00", sw: 2, dash: "6 3" },
    { label: "yellow-contour-inner", points: yellowInnerJ109, stroke: "#ffff00", sw: 2.2, dash: "7 3" },
    { label: "yellow-contour-spot", ra: -51, dec: -184, a: 1.2, b: 1, fill: "#ffff00" },
    { label: "beam-ellipse", ra: -150, dec: -150, a: 18.3, b: 8.5, rot: 47, fill: "#ffffff" }
  ]
});
</script>
</body>
</html>
